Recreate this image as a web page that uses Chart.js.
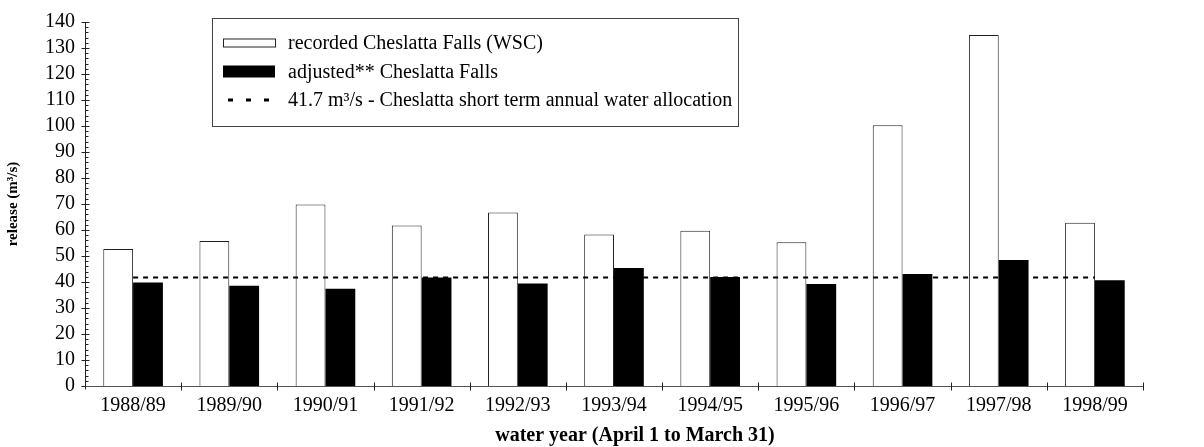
<!DOCTYPE html>
<html>
<head>
<meta charset="utf-8">
<script src="https://cdn.jsdelivr.net/npm/chart.js@4.4.1/dist/chart.umd.min.js"></script>
<style>
  html, body { margin: 0; padding: 0; background: #fff; }
  #wrap { width: 1204px; height: 447px; }
</style>
</head>
<body>
<div id="wrap"><canvas id="releaseChart" width="1204" height="447"></canvas></div>
<script>
// Cheslatta Falls annual releases (m3/s) by water year
const waterYears = ["1988/89", "1989/90", "1990/91", "1991/92", "1992/93", "1993/94",
                    "1994/95", "1995/96", "1996/97", "1997/98", "1998/99"];
const recorded = [52.7, 55.8, 69.8, 61.7, 66.7, 58.3, 59.7, 55.3, 100.3, 135.0, 62.8];
const adjusted = [39.8, 38.6, 37.4, 41.7, 39.4, 45.4, 41.9, 39.2, 43.1, 48.5, 40.7];
const allocation = [41.7, 41.7, 41.7, 41.7, 41.7, 41.7, 41.7, 41.7, 41.7, 41.7, 41.7];
const yTicks = [0, 10, 20, 30, 40, 50, 60, 70, 80, 90, 100, 110, 120, 130, 140];

const legendLabels = [
  "recorded Cheslatta Falls (WSC)",
  "adjusted** Cheslatta Falls",
  "41.7 m\u00b3/s - Cheslatta short term annual water allocation"
];
const xTitle = "water year (April 1 to March 31)";

const serif = "'Liberation Serif', 'Times New Roman', serif";

// axis lines, crossing major ticks, small minor ticks and the x title
const axisMarks = {
  id: "axisMarks",
  afterDatasetsDraw(chart) {
    const { ctx, chartArea, scales } = chart;
    const x = scales.x, y = scales.y;
    const left = Math.round(chartArea.left) + 0.5;
    const base = Math.round(y.getPixelForValue(0)) + 0.5;
    ctx.save();
    ctx.strokeStyle = "#222";
    ctx.lineWidth = 1;
    ctx.beginPath();
    // y axis
    ctx.moveTo(left, Math.round(y.getPixelForValue(140)));
    ctx.lineTo(left, base + 3);
    yTicks.forEach((v) => {
      const py = Math.round(y.getPixelForValue(v)) + 0.5;
      ctx.moveTo(left - 4, py);
      ctx.lineTo(left + 4, py);
    });
    for (let v = 2; v < 140; v += 2) {
      if (v % 10 === 0) continue;
      const py = Math.round(y.getPixelForValue(v)) + 0.5;
      ctx.moveTo(left, py);
      ctx.lineTo(left + 3, py);
    }
    ctx.stroke();

    // x axis
    ctx.strokeStyle = "#555";
    ctx.beginPath();
    ctx.moveTo(left, base);
    ctx.lineTo(Math.round(chartArea.right) + 0.5, base);
    ctx.stroke();
    ctx.strokeStyle = "#222";
    ctx.beginPath();
    for (let i = 0; i < waterYears.length; i++) {
      const px = i < waterYears.length - 1
        ? (x.getPixelForTick(i) + x.getPixelForTick(i + 1)) / 2
        : chartArea.right;
      const rx = Math.round(px) + 0.5;
      ctx.moveTo(rx, base - 4);
      ctx.lineTo(rx, base + 4);
    }
    ctx.stroke();

    // x title, sits a little right of centre
    ctx.fillStyle = "#000";
    ctx.font = "bold 20px " + serif;
    ctx.textAlign = "center";
    ctx.textBaseline = "middle";
    ctx.fillText(xTitle, (chartArea.left + chartArea.right) / 2 + 21, 436);
    ctx.restore();
  }
};

// boxed legend inside the plot area
const boxLegend = {
  id: "boxLegend",
  afterDraw(chart) {
    const ctx = chart.ctx;
    const box = { left: 212, top: 18, right: 738, bottom: 126 };
    const rows = [42.5, 71.5, 100];
    const ds = chart.data.datasets;
    ctx.save();
    ctx.fillStyle = "#fff";
    ctx.fillRect(box.left, box.top, box.right - box.left, box.bottom - box.top);
    ctx.strokeStyle = "#444";
    ctx.lineWidth = 1;
    ctx.strokeRect(box.left + 0.5, box.top + 0.5, box.right - box.left, box.bottom - box.top);

    // recorded swatch
    ctx.fillStyle = ds[0].backgroundColor;
    ctx.strokeStyle = ds[0].borderColor;
    ctx.fillRect(223, rows[0] - 4, 52, 8);
    ctx.strokeRect(223.5, rows[0] - 3.5, 52, 8);
    // adjusted swatch
    ctx.fillStyle = ds[1].backgroundColor;
    ctx.fillRect(223, rows[1] - 6, 52, 12);
    // allocation line
    ctx.strokeStyle = ds[2].borderColor;
    ctx.lineWidth = 3;
    ctx.setLineDash([5, 13]);
    ctx.beginPath();
    ctx.moveTo(228, rows[2]);
    ctx.lineTo(275, rows[2]);
    ctx.stroke();
    ctx.setLineDash([]);

    ctx.fillStyle = "#000";
    ctx.font = "20px " + serif;
    ctx.textBaseline = "middle";
    legendLabels.forEach((t, i) => ctx.fillText(t, 288, rows[i] + 1));
    ctx.restore();
  }
};

const ctx = document.getElementById("releaseChart").getContext("2d");
new Chart(ctx, {
  type: "bar",
  data: {
    labels: waterYears,
    datasets: [
      {
        label: legendLabels[0],
        data: recorded,
        backgroundColor: "#ffffff",
        borderColor: "#222222",
        borderWidth: 1,
        categoryPercentage: 0.62,
        barPercentage: 1.0,
        order: 2
      },
      {
        label: legendLabels[1],
        data: adjusted,
        backgroundColor: "#000000",
        borderColor: "#000000",
        borderWidth: 0,
        categoryPercentage: 0.62,
        barPercentage: 1.0,
        order: 2
      },
      {
        type: "line",
        label: legendLabels[2],
        data: allocation,
        borderColor: "#000000",
        borderWidth: 2,
        borderDash: [5, 5],
        pointRadius: 0,
        fill: false,
        order: 0
      }
    ]
  },
  options: {
    responsive: false,
    animation: false,
    layout: { padding: { top: 16, right: 61, left: 0, bottom: 0 } },
    plugins: {
      legend: { display: false },
      tooltip: { enabled: false }
    },
    scales: {
      x: {
        offset: true,
        grid: { display: false, drawTicks: false },
        border: { display: false },
        ticks: {
          color: "#000",
          padding: 8,
          maxRotation: 0,
          autoSkip: false,
          font: { family: serif, size: 20 }
        },
        afterFit(scale) { scale.height = 61; }
      },
      y: {
        min: 0,
        max: 140,
        afterBuildTicks(scale) { scale.ticks = yTicks.map((v) => ({ value: v })); },
        grid: { display: false, drawTicks: false },
        border: { display: false },
        ticks: {
          color: "#000",
          padding: 10,
          autoSkip: false,
          font: { family: serif, size: 20 }
        },
        title: {
          display: true,
          text: "release (m\u00b3/s)",
          color: "#000",
          padding: { top: 4, bottom: 0 },
          font: { family: serif, size: 15, weight: "bold" }
        },
        afterFit(scale) { scale.width = 85; }
      }
    }
  },
  plugins: [axisMarks, boxLegend]
});
</script>
</body>
</html>
